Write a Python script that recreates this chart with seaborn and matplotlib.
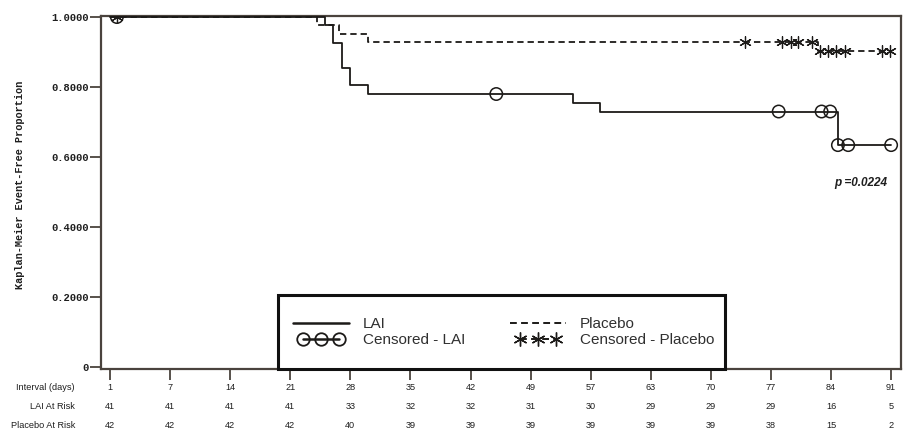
import numpy as np
import pandas as pd
import matplotlib
matplotlib.use("Agg")
import matplotlib.pyplot as plt
import seaborn as sns
from matplotlib.lines import Line2D
from matplotlib.patches import Rectangle
from matplotlib.legend_handler import HandlerLine2D
from matplotlib.transforms import blended_transform_factory

# ---------------- data ----------------
tick_labels = ["1", "7", "14", "21", "28", "35", "42", "49", "57", "63", "70", "77", "84", "91"]
tick_pos = [0, 7, 14, 21, 28, 35, 42, 49, 56, 63, 70, 77, 84, 91]
lai_at_risk = [41, 41, 41, 41, 33, 32, 32, 31, 30, 29, 29, 29, 16, 5]
placebo_at_risk = [42, 42, 42, 42, 40, 39, 39, 39, 39, 39, 39, 38, 15, 2]

# step curves (event times on the axis scale, survival after each step)
lai_time = [0, 25.0, 26.0, 27.0, 28.0, 30.0, 53.9, 57.1, 84.8, 91.0]
lai_surv = [1.0, 0.976, 0.927, 0.854, 0.805, 0.780, 0.755, 0.730, 0.634, 0.634]
pla_time = [0, 24.1, 26.7, 30.0, 82.5, 90.9]
pla_surv = [1.0, 0.976, 0.952, 0.929, 0.902, 0.902]

# censored observations
lai_cens_t = [0.8, 45.0, 77.9, 82.9, 83.9, 84.8, 86.0, 91.0]
lai_cens_s = [1.0, 0.780, 0.730, 0.730, 0.730, 0.634, 0.634, 0.634]
pla_cens_t = [0.8, 74.0, 78.3, 79.3, 80.2, 81.8, 82.7, 83.6, 84.6, 85.6, 89.9, 90.9]
pla_cens_s = [1.0, 0.929, 0.929, 0.929, 0.929, 0.929, 0.902, 0.902, 0.902, 0.902, 0.902, 0.902]

y_ticks = [0, 0.2, 0.4, 0.6, 0.8, 1.0]
y_tick_labels = ["0", "0.2000", "0.4000", "0.6000", "0.8000", "1.0000"]
p_text = "p =0.0224"

# ---------------- style ----------------
sns.set_style("white")
plt.rcParams["font.family"] = ["Liberation Sans", "DejaVu Sans"]
spine_col = "#4a433d"
line_col = "#1c1a18"
txt_col = "#1e1e1e"

fig = plt.figure(figsize=(9.09, 4.41), dpi=100)
ax = fig.add_axes([101 / 909, 1 - 369 / 441, 800 / 909, 353 / 441])

lai_df = pd.DataFrame({"t": lai_time, "s": lai_surv})
pla_df = pd.DataFrame({"t": pla_time, "s": pla_surv})

sns.lineplot(data=pla_df, x="t", y="s", ax=ax, estimator=None, sort=False,
             drawstyle="steps-post", color=line_col, lw=1.3,
             linestyle=(0, (3.5, 2.2)), zorder=3)
sns.lineplot(data=lai_df, x="t", y="s", ax=ax, estimator=None, sort=False,
             drawstyle="steps-post", color=line_col, lw=1.3, zorder=3)

sns.scatterplot(x=lai_cens_t, y=lai_cens_s, ax=ax, marker="o", s=80,
                facecolor="none", edgecolor=line_col, linewidth=1.1, zorder=4)
sns.scatterplot(x=pla_cens_t, y=pla_cens_s, ax=ax, marker=(6, 2, 0), s=70,
                color=line_col, linewidth=0.9, zorder=4)

ax.set_xlim(-1.05, 92.15)
ax.set_ylim(-0.006, 1.003)

for sp in ax.spines.values():
    sp.set_visible(True)
    sp.set_color(spine_col)
    sp.set_linewidth(1.6)

ax.set_yticks(y_ticks)
ax.set_yticklabels(y_tick_labels, fontfamily="Liberation Mono",
                   fontweight="bold", fontsize=7.6, color=txt_col)
ax.set_xticks(tick_pos)
ax.set_xticklabels([])
ax.tick_params(axis="y", direction="out", length=8, width=1.3, color=spine_col,
               left=True, pad=1)
ax.tick_params(axis="x", direction="out", length=8, width=1.3, color=spine_col,
               bottom=True)
ax.set_xlabel("")
ax.set_ylabel("Kaplan-Meier Event-Free Proportion", fontfamily="Liberation Mono",
              fontweight="bold", fontsize=7.4, color=txt_col)
ax.yaxis.set_label_coords(-0.095, 0.521)

# at-risk table
tr = blended_transform_factory(ax.transData, ax.transAxes)
rows = [("Interval (days)", tick_labels, -0.051),
        ("LAI At Risk", [str(v) for v in lai_at_risk], -0.105),
        ("Placebo At Risk", [str(v) for v in placebo_at_risk], -0.159)]
for lab, vals, yy in rows:
    ax.text(-0.0325, yy, lab, transform=ax.transAxes, ha="right", va="center",
            fontsize=6.6, color=txt_col)
    for xp, v in zip(tick_pos, vals):
        ax.text(xp, yy, v, transform=tr, ha="center", va="center",
                fontsize=6.6, color=txt_col)

# p-value
ax.text(90.5, 0.526, p_text, ha="right", va="center", fontsize=8.5,
        fontweight="bold", fontstyle="italic", color=txt_col)

# legend box + legend
rect = Rectangle((0.2209, 0.0), 0.7799 - 0.2209, 0.2096, transform=ax.transAxes,
                 facecolor="white", edgecolor="#111111", lw=2.2, zorder=5,
                 clip_on=False)
ax.add_patch(rect)
h_lai = Line2D([], [], color=line_col, lw=1.8)
h_lai_c = Line2D([], [], color=line_col, lw=1.8, marker="o", ms=9,
                 mfc="none", mec=line_col, mew=1.3)
h_pla = Line2D([], [], color=line_col, lw=1.4, linestyle=(0, (3.5, 2.2)))
h_pla_c = Line2D([], [], color=line_col, lw=1.4, linestyle=(0, (3.5, 2.2)),
                 marker=(6, 2, 0), ms=10, mew=1.0)
leg = ax.legend([h_lai, h_lai_c, h_pla, h_pla_c],
                ["LAI", "Censored - LAI", "Placebo", "Censored - Placebo"],
                ncol=2, frameon=False, loc="upper left",
                bbox_to_anchor=(0.234, 0.147), borderpad=0, borderaxespad=0,
                fontsize=11, handlelength=4.3, handletextpad=0.6,
                columnspacing=2.6, labelspacing=0.12, numpoints=3,
                handler_map={h_lai_c: HandlerLine2D(marker_pad=1.0, numpoints=3),
                             h_pla_c: HandlerLine2D(marker_pad=1.0, numpoints=3)})
leg.set_zorder(6)
for t in leg.get_texts():
    t.set_color("#303030")

fig.savefig("out.png", dpi=100)
